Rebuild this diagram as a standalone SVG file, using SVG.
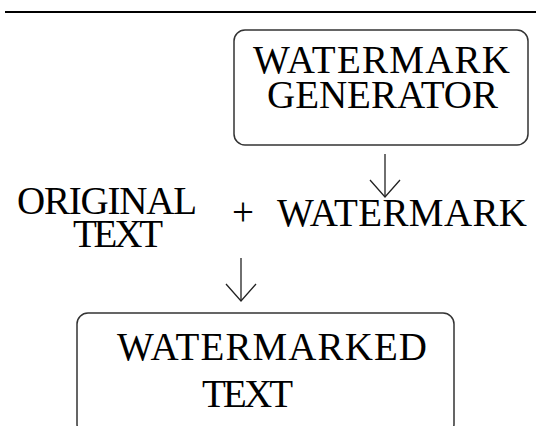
<svg xmlns="http://www.w3.org/2000/svg" width="541" height="426" viewBox="0 0 541 426">
<style>
.t{font-family:"Liberation Serif","Times New Roman",serif;font-size:39px;fill:#000}
.box{fill:#fff;stroke:#333;stroke-width:1.5}
.conn{stroke:#222;stroke-width:1.3;fill:none}
</style>
<defs>
<marker id="arr" markerUnits="userSpaceOnUse" viewBox="-20 -17 22 34" refX="0" refY="0" markerWidth="22" markerHeight="34" orient="auto">
<path d="M-17,-15 L0,0 L-17,15" fill="none" stroke="#222" stroke-width="1.3"/>
</marker>
</defs>
<rect width="541" height="426" fill="#fff"/>
<line x1="5" y1="12" x2="536" y2="12" stroke="#000" stroke-width="2"/>
<g id="generator">
<rect class="box" x="234" y="30" width="294" height="115" rx="11"/>
<text class="t" x="253" y="73" textLength="257">WATERMARK</text>
<text class="t" x="267" y="108" textLength="231">GENERATOR</text>
</g>
<g id="original">
<text class="t" x="17" y="214" font-size="38" textLength="180">ORIGINAL</text>
<text class="t" x="73" y="247" font-size="38" textLength="90">TEXT</text>
</g>
<g id="plus">
<text class="t" x="232" y="225" font-size="38">+</text>
</g>
<g id="watermark">
<text class="t" x="277" y="226" textLength="250">WATERMARK</text>
</g>
<g id="result">
<rect class="box" x="77" y="313" width="377" height="122" rx="11"/>
<text class="t" x="117" y="360" textLength="310">WATERMARKED</text>
<text class="t" x="202" y="407" textLength="91">TEXT</text>
</g>
<g id="connectors">
<line class="conn" x1="385" y1="154" x2="385" y2="197" marker-end="url(#arr)"/>
<line class="conn" x1="241" y1="258" x2="241" y2="301" marker-end="url(#arr)"/>
</g>
</svg>
